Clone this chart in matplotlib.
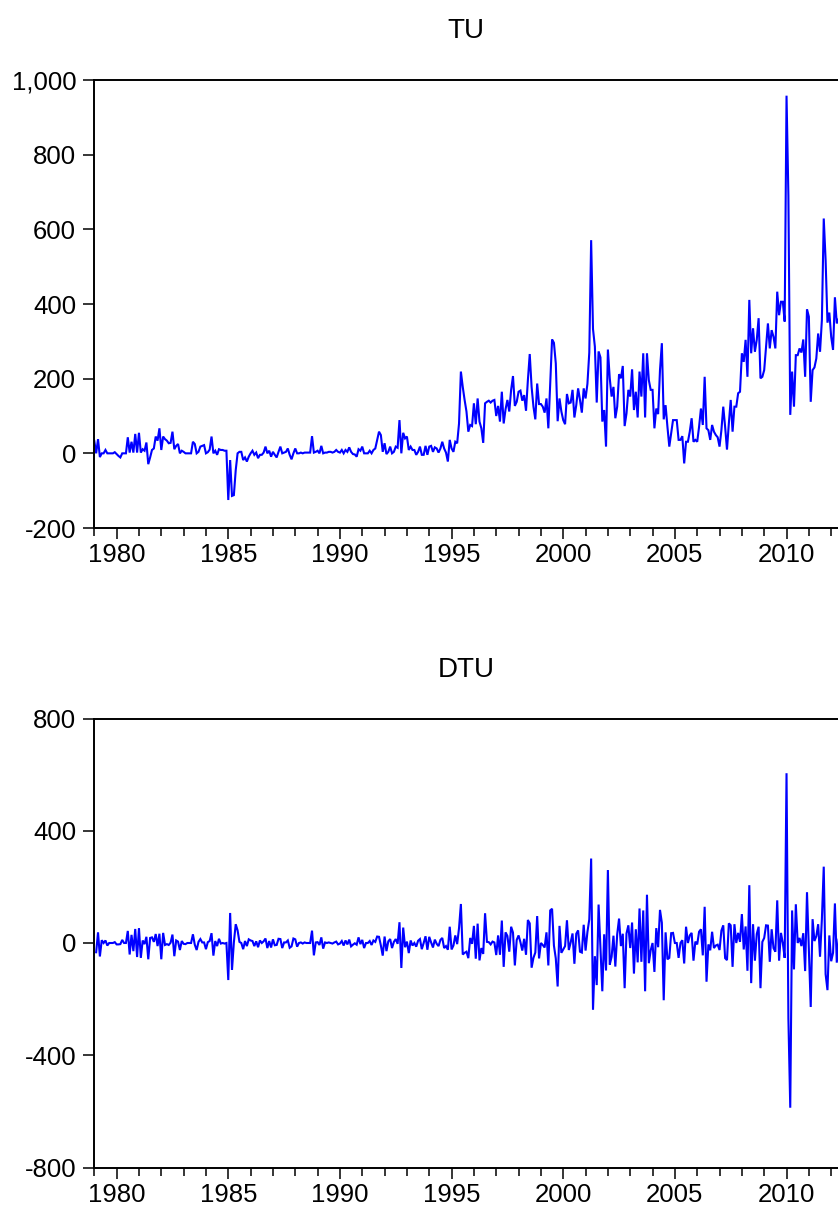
import numpy as np
import matplotlib
matplotlib.use("Agg")
import matplotlib.pyplot as plt
from matplotlib.ticker import MultipleLocator, FuncFormatter

# Monthly TU values (1979M01 ...)
tu_1979_1989 = [
    33, 0, 38, -10, 0, 0, 9, 0, 0, 0, 0, 3,
    -2, -7, -11, 0, 0, 0, 43, 2, 31, 2, 52, 2,
    55, 2, 11, 7, 29, -29, -11, 9, 13, 45, 34, 67,
    9, 45, 38, 34, 27, 28, 58, 11, 20, 25, 0, 7,
    4, 0, 0, 0, 0, 31, 25, 0, 4, 18, 20, 22,
    0, 3, 10, 45, 0, 7, -4, 11, 9, 9, 7, 7,
    -125, -18, -114, -112, -45, 0, 4, 4, -18, -11, -22, -9,
    0, 7, -4, 2, -13, -4, -4, 2, 18, 0, 7, -9,
    4, -4, -11, 4, 18, 0, 2, 4, 13, -4, -16, 0,
    13, 0, 0, 2, 0, 2, 2, 2, 2, 46, 2, 4,
    7, 0, 20, 0, 2, 2, 4, 4, 2, 4, 9, 4,
]
tu_1990_1999 = [
    2, 9, 0, 9, 4, 16, 4, -2, -3, -9, 11, 7,
    18, 0, 0, 0, 7, 0, 9, 13, 36, 58, 49, 4,
    27, -2, 4, 18, 0, 4, 18, 15, 89, 0, 55, 40,
    45, 9, 18, 9, 9, -4, 4, 18, -4, -4, 20, -4,
    18, 20, 4, 16, 13, 2, 13, 31, 13, 2, -22, 36,
    13, 4, 31, 27, 80, 219, 178, 143, 112, 58, 76, 73,
    134, 78, 147, 85, 67, 28, 134, 138, 141, 136, 141, 143,
    100, 127, 85, 165, 80, 118, 143, 112, 170, 207, 127, 138,
    165, 168, 141, 156, 114, 196, 266, 178, 125, 91, 187, 132,
    132, 125, 109, 147, 67, 183, 305, 296, 241, 86, 147, 112,
]
tu_2000_2012 = [
    89, 78, 159, 134, 136, 170, 96, 129, 174, 143, 109, 174,
    147, 186, 270, 571, 333, 286, 136, 273, 257, 85, 116, 18,
    278, 201, 152, 178, 94, 125, 212, 201, 234, 73, 107, 170,
    152, 225, 116, 165, 96, 219, 152, 268, 96, 268, 196, 170,
    170, 67, 120, 105, 223, 295, 91, 129, 71, 18, 53, 89,
    89, 89, 36, 36, 46, -27, 31, 31, 58, 94, 31, 36,
    31, 71, 120, 76, 205, 67, 62, 36, 76, 58, 49, 43,
    18, 62, 125, 71, 10, 80, 143, 58, 125, 125, 161, 165,
    268, 245, 304, 205, 411, 268, 335, 272, 304, 362, 201, 205,
    223, 286, 348, 281, 330, 312, 281, 433, 370, 406, 406, 353,
    958, 690, 103, 219, 125, 263, 263, 281, 270, 305, 205, 386,
    366, 138, 223, 230, 254, 321, 272, 357, 629, 518, 350, 377,
    312, 277, 418, 348, 360,
]
start_year = 1979
titles = ["TU", "DTU"]
tu_yticks = [-200, 0, 200, 400, 600, 800, 1000]
dtu_yticks = [-800, -400, 0, 400, 800]
xtick_years = [1980, 1985, 1990, 1995, 2000, 2005, 2010]

tu = np.array(tu_1979_1989 + tu_1990_1999 + tu_2000_2012, dtype=float)
t = start_year + np.arange(len(tu)) / 12.0
dtu = np.diff(tu)          # DTU = first difference of TU
t_d = t[1:]

plt.rcParams['font.family'] = ['Liberation Sans', 'DejaVu Sans']
plt.rcParams['axes.unicode_minus'] = False

fig = plt.figure(figsize=(8.38, 12.11), dpi=100)
W, H = 838.0, 1211.0
left = 94.3 / W
ax1 = fig.add_axes([left, 1 - 528 / H, 1 - left, (528 - 80) / H])
ax2 = fig.add_axes([left, 1 - 1167.5 / H, 1 - left, (1167.5 - 718.5) / H])

xmax = start_year + (838 - 94.3) / 22.33
fmt = FuncFormatter(lambda v, p: f"{int(v):,}")

for ax, x, y, title, yt in [(ax1, t, tu, titles[0], tu_yticks),
                            (ax2, t_d, dtu, titles[1], dtu_yticks)]:
    ax.plot(x, y, color=(0, 0, 1), lw=1.5, solid_joinstyle='miter')
    ax.set_xlim(start_year, xmax)
    ax.set_ylim(yt[0], yt[-1])
    ax.set_yticks(yt)
    ax.yaxis.set_major_formatter(fmt)
    ax.set_xticks(xtick_years)
    ax.xaxis.set_minor_locator(MultipleLocator(1))
    ax.spines['right'].set_visible(False)
    for s in ['left', 'top', 'bottom']:
        ax.spines[s].set_linewidth(1.4)
        ax.spines[s].set_color('black')
    ax.tick_params(axis='y', direction='out', length=8, width=1.1,
                   labelsize=18.5, pad=5, colors='black')
    ax.tick_params(axis='x', which='major', direction='out', length=8,
                   width=1.1, labelsize=18.5, pad=3)
    ax.tick_params(axis='x', which='minor', direction='out', length=5.5,
                   width=1.1)
    ax.set_title(title, fontsize=20, pad=30)

fig.savefig("out.png", dpi=100)
